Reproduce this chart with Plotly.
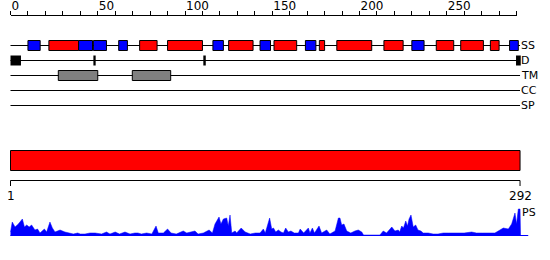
import plotly.graph_objects as go

# ---------------- data ----------------
seq_len = 292
top_ticks_max = 290

strand_start = [10, 39, 47.5, 62, 116, 143, 169, 230, 286]
strand_end = [17, 47, 55, 67, 122, 149, 175, 237, 291]
helix_start = [22, 74, 90, 125, 151, 177, 187, 214, 244, 258, 275]
helix_end = [39, 84, 110, 139, 164, 180, 207, 225, 254, 271, 280]

dis_start = [0, 47.5, 110.5, 289.7]
dis_end = [6, 48.8, 111.9, 292.4]

tm_start = [27.4, 69.8]
tm_end = [50, 91.8]

row_labels = ["SS", "D", "TM", "CC", "SP"]

ps_res = [0, 0.5, 1, 2.6, 4.5, 6.8, 8, 9.3, 10.7, 12.1, 13, 14, 15.5, 16.9, 19.4, 20.7,
          22.6, 24, 25.5, 28.4, 31.2, 34, 36, 38.5, 40, 42.7, 45.6, 48.5, 52.2, 55, 57,
          60, 62.5, 65.6, 68.5, 71.3, 73, 75, 78, 81, 83.4, 84.7, 87.6, 90, 92, 95, 99,
          101, 103, 105.7, 107.5, 110.5, 113.8, 115.7, 117.2, 119.5, 120.6, 122, 123.9,
          124.8, 125.8, 126.8, 128.7, 129.6, 132.2, 134.5, 137.4, 140.3, 143, 144.9, 146,
          147.3, 148.5, 149.7, 150.7, 152, 153.5, 155, 156.4, 157.7, 159.2, 160.7, 162.6,
          165, 166, 168, 169.7, 170.7, 171.6, 173, 174.2, 176.8, 178.3, 181.2, 183, 186,
          187.9, 188.8, 189.8, 191.1, 192.7, 195, 197.4, 199.3, 201.3, 202.3, 211.7, 213.6,
          215.5, 218.5, 220.3, 222.2, 223, 224.2, 225.2, 226.5, 227.5, 228.4, 229.5, 230.8,
          232.2, 233.5, 235.2, 236.5, 239.4, 242.2, 245, 248, 251, 254, 257, 260, 264.3,
          267, 270.4, 273.8, 277.6, 280.5, 282.4, 285.3, 287.2, 289.1, 290, 291, 292, 292.3]
ps_val = [4, 10, 14, 9, 12, 17, 9, 11, 9, 11, 8, 6, 7, 3, 7, 4,
          14, 8, 4, 6, 4, 3, 2, 3, 2, 2, 3, 3, 2, 4, 2,
          4, 2, 4, 2, 3, 3, 2, 3, 2, 10, 3, 3, 7, 3, 2, 5,
          3, 4, 5, 2, 3, 6, 3, 12, 19, 12, 17, 18,
          10, 21, 3, 5, 3, 8, 4, 2, 3, 3, 7, 3,
          10, 18, 7, 8, 4, 6, 4, 3, 8, 4, 5, 3,
          3, 7, 3, 6, 8, 3, 8, 3, 10, 3, 6, 2, 5,
          18, 18, 11, 12, 5, 3, 5, 6, 4, 1, 1, 5,
          3, 9, 5, 6, 4, 10, 8, 15, 10, 17, 21, 9,
          11, 6, 5, 3, 3, 2, 2, 3, 3, 3, 3, 3, 4,
          3, 3, 3, 3, 6, 8, 7, 12, 23, 12, 27, 27, 0]

# ---------------- layout constants ----------------
W, H = 550, 260
X0 = 10.5          # pixel of residue 0
PX = 1.745         # pixels per residue
FONT = "DejaVu Sans"

row_y = {"SS": 45.5, "D": 60.5, "TM": 75.5, "CC": 90.5, "SP": 105.5}
half_box = 5

fig = go.Figure()

# hidden trace to create the main subplot
fig.add_trace(go.Scatter(x=[0, seq_len], y=[0, 0], mode="markers",
                         marker=dict(opacity=0), hoverinfo="skip", showlegend=False))
# top ruler axis (x2)
fig.add_trace(go.Scatter(x=[0, top_ticks_max], y=[0, 0], xaxis="x2", yaxis="y",
                         mode="markers", marker=dict(opacity=0), hoverinfo="skip",
                         showlegend=False))

shapes = []
annotations = []

# row lines
for lab in row_labels:
    shapes.append(dict(type="line", xref="x", yref="y", x0=0, x1=seq_len,
                       y0=row_y[lab], y1=row_y[lab], line=dict(color="black", width=1)))
    annotations.append(dict(x=seq_len, y=row_y[lab], xref="x", yref="y", text=lab,
                            showarrow=False, xanchor="left", yanchor="middle",
                            xshift=-1, font=dict(family=FONT, size=11, color="black")))

def box(x0, x1, yc, fill, h=half_box):
    shapes.append(dict(type="rect", xref="x", yref="y", x0=x0, x1=x1,
                       y0=yc - h, y1=yc + h, fillcolor=fill,
                       line=dict(color="black", width=1), layer="above"))

for s, e in zip(strand_start, strand_end):
    box(s, e, row_y["SS"], "#0000FF")
for s, e in zip(helix_start, helix_end):
    box(s, e, row_y["SS"], "#FF0000")
for s, e in zip(dis_start, dis_end):
    shapes.append(dict(type="rect", xref="x", yref="y", x0=s, x1=e,
                       y0=row_y["D"] - half_box, y1=row_y["D"] + half_box,
                       fillcolor="black", line=dict(width=0), layer="above"))
for s, e in zip(tm_start, tm_end):
    box(s, e, row_y["TM"], "#808080")

# big red bar
shapes.append(dict(type="rect", xref="x", yref="y", x0=0, x1=seq_len, y0=150.5, y1=170.5,
                   fillcolor="#FF0000", line=dict(color="black", width=1)))
# bracket
shapes.append(dict(type="path", xref="x", yref="y",
                   path=f"M 0,186 L 0,180.5 L {seq_len},180.5 L {seq_len},186",
                   line=dict(color="black", width=1)))
annotations.append(dict(x=0, y=196, xref="x", yref="y", text="1", showarrow=False,
                        xanchor="center", yanchor="middle",
                        font=dict(family=FONT, size=12, color="black")))
annotations.append(dict(x=seq_len, y=196, xref="x", yref="y", text=str(seq_len),
                        showarrow=False, xanchor="center", yanchor="middle",
                        font=dict(family=FONT, size=12, color="black")))

# PS profile
fig.add_trace(go.Scatter(x=ps_res, y=ps_val, xaxis="x", yaxis="y2", mode="lines",
                         fill="tozeroy", fillcolor="#0000FF",
                         line=dict(color="#0000FF", width=0.5),
                         hoverinfo="skip", showlegend=False))
shapes.append(dict(type="line", xref="x", yref="y", x0=0, x1=seq_len + 4.7,
                   y0=235.5, y1=235.5, line=dict(color="#0000FF", width=1)))
annotations.append(dict(x=seq_len, y=24, xref="x", yref="y2", text="PS", showarrow=False,
                        xanchor="left", yanchor="middle", xshift=0,
                        font=dict(family=FONT, size=11, color="black")))

fig.update_layout(
    width=W, height=H, margin=dict(l=0, r=0, t=0, b=0),
    paper_bgcolor="white", plot_bgcolor="rgba(0,0,0,0)",
    showlegend=False,
    xaxis=dict(domain=[0, 1], range=[-X0 / PX, (W - X0) / PX], visible=False,
               fixedrange=True),
    xaxis2=dict(domain=[X0 / W, (X0 + top_ticks_max * PX) / W], range=[0, top_ticks_max],
                anchor="free", position=1 - 14.5 / H, side="top",
                showline=True, linecolor="black", linewidth=1,
                showgrid=False, zeroline=False,
                tick0=0, dtick=50, ticks="outside", ticklen=4, tickcolor="black",
                tickwidth=1, ticklabelposition="outside right",
                tickfont=dict(family=FONT, size=12, color="black"),
                minor=dict(dtick=10, ticks="outside", ticklen=4, tickcolor="black",
                           tickwidth=1, showgrid=False),
                fixedrange=True),
    yaxis=dict(domain=[0, 1], range=[H, 0], visible=False, fixedrange=True),
    yaxis2=dict(domain=[(H - 236) / H, (H - 208) / H], range=[0, 28], anchor="x",
                visible=False, fixedrange=True),
    shapes=shapes, annotations=annotations,
)

fig.write_html("out.html")
